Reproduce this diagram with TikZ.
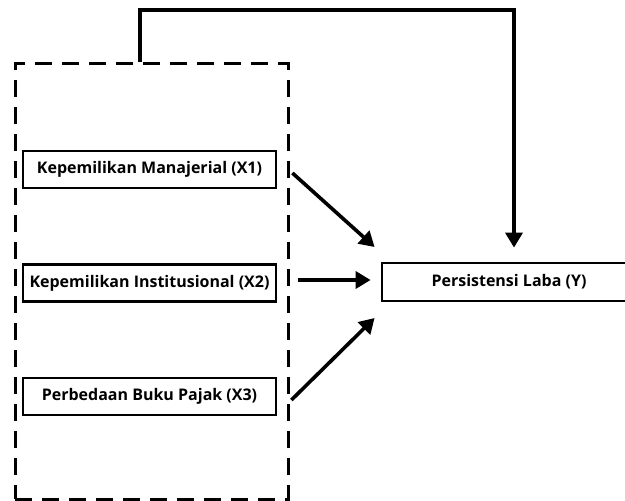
\documentclass[tikz,border=0pt]{standalone}
\usepackage{fontspec}
\setmainfont{Open Sans}
\usetikzlibrary{arrows.meta}

\tikzset{
	varbox/.style={draw, line width=2.8pt, minimum height=37pt, inner sep=0pt,
		font=\bfseries\fontsize{16}{18}\selectfont},
	arr/.style={line width=3.6pt, -{Triangle[length=15pt,width=17pt]}},
}

\begin{document}
\begin{tikzpicture}[x=1pt, y=-1pt]
		\clip (0,0) rectangle (625,501);
		
		% Dashed group of independent variables
		\node[draw, dash pattern=on 17pt off 10pt, line width=3pt,
			minimum width=273pt, minimum height=436pt] (grp) at (151.5,281) {};
		
		% Variables
		\node[varbox, minimum width=253pt] (x1) at (149.5,169.5) {Kepemilikan Manajerial (X1)};
		\node[varbox, minimum width=253pt] (x2) at (149.5,283) {Kepemilikan Institusional (X2)};
		\node[varbox, minimum width=253pt] (x3) at (149.5,396.5) {Perbedaan Buku Pajak (X3)};
		\node[varbox, minimum width=258pt, minimum height=38pt] (y) at (511,282) {\hspace*{-4pt}Persistensi Laba (Y)};
		
		% Connectors
		\draw[arr] ([shift={(15,3.5)}]x1.east) -- ([shift={(-6,-35)}]y.west);
		\draw[arr] ([shift={(21,-3)}]x2.east) -- ([shift={(-10,-2)}]y.west);
		\draw[arr] ([shift={(14,3.5)}]x3.east) -- ([shift={(-6,36)}]y.west);
		
		% Moderating line from the group
		\coordinate (top) at (140,10);
		\draw[arr, line join=miter, shorten >=14pt] (grp.north -| top) -- (top) -| ([xshift=3pt]y.north);
	\end{tikzpicture}
\end{document}
